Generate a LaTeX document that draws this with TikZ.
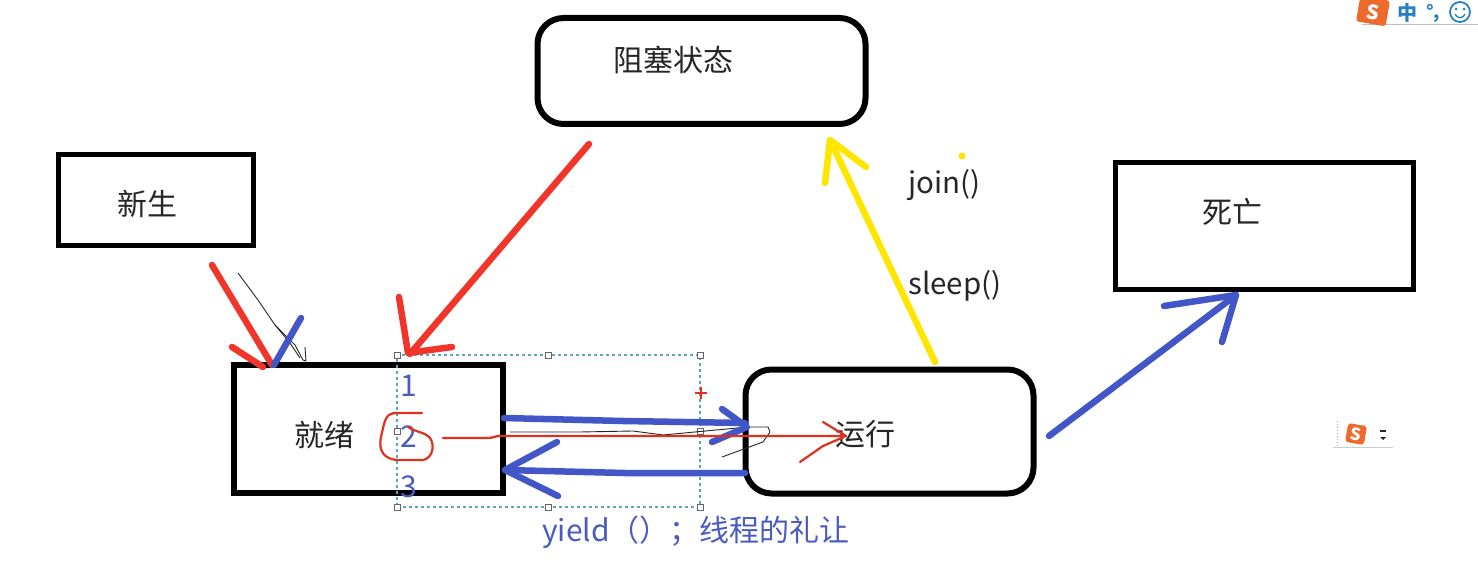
\documentclass[tikz,border=0pt]{standalone}
\usepackage{fontspec}
\setmainfont{Noto Sans CJK SC}
\definecolor{arrred}{HTML}{F2352A}
\definecolor{arrblue}{HTML}{4256C8}
\definecolor{txtblue}{HTML}{4A5CBE}
\definecolor{arryellow}{HTML}{FFE600}
\definecolor{selblue}{HTML}{5FA3BC}
\definecolor{inkred}{HTML}{E0301E}
\definecolor{sgorange}{HTML}{EE6A2C}
\definecolor{sgblue}{HTML}{2A7FC0}
\tikzset{
  x=1pt,y=-1pt,
  sqbox/.style={draw=black,line width=#1,fill=white,inner sep=0pt,outer sep=0pt},
  rdbox/.style={draw=black,line width=6pt,fill=white,inner sep=0pt,outer sep=0pt,rounded corners=26pt},
  lab/.style={font=\fontsize{30}{32}\selectfont,text=black!85,inner sep=0pt},
  mono/.style={font=\fontsize{29.5}{32}\selectfont,text=black!85,inner sep=0pt},
  numlab/.style={font=\fontsize{30}{32}\selectfont,text=txtblue,inner sep=0pt},
  redpen/.style={draw=arrred,line width=6.5pt,line cap=round,line join=round},
  bluepen/.style={draw=arrblue,line width=6.5pt,line cap=round,line join=round},
  yellowpen/.style={draw=arryellow,line width=6.5pt,line cap=round,line join=round},
  thinred/.style={draw=inkred,line width=2.2pt,line cap=round,line join=round},
  thinblack/.style={draw=black!85,line width=.9pt,line join=round},
  handle/.style={draw=black!60,fill=white,line width=1pt,minimum size=6pt,inner sep=0pt,outer sep=0pt},
  sgicon/.style={fill=sgorange,rounded corners=3pt,text=white,inner sep=0pt,font=\bfseries\fontsize{#1}{#1}\selectfont},
}
\begin{document}
\begin{tikzpicture}
\useasboundingbox (0,0) rectangle (1478,569);
\fill[white] (0,0) rectangle (1478,569);

% boxes
\node[sqbox=5pt,minimum width=195pt,minimum height=91pt] (born) at (155.5,200.5) {};
\node[sqbox=6pt,minimum width=269pt,minimum height=128pt] (ready) at (368.5,429) {};
\node[rdbox,minimum width=328pt,minimum height=106pt] (blocked) at (701.5,71) {};
\node[rdbox,minimum width=288pt,minimum height=124pt] (running) at (889.5,431.5) {};
\node[sqbox=5pt,minimum width=298pt,minimum height=127pt] (dead) at (1264.5,226) {};

% box texts
\node[lab] (tborn) at (147.5,203.5) {新生};
\node[lab] (tready) at (324.5,435.5) {就绪};
\node[lab] (tblocked) at (673,59.5) {阻塞状态};
\node[lab] (trunning) at (865,434.5) {运行};
\node[lab] (tdead) at (1232,211.5) {死亡};
\node[mono,anchor=west] (tjoin) at (908,185) {join()};
\node[mono,anchor=west] (tsleep) at (908,286) {sleep()};

% selection frame
\node[draw=selblue,dashed,line width=1.2pt,minimum width=303pt,minimum height=152pt,inner sep=0pt,outer sep=0pt] (sel) at (548.5,431) {};
\foreach \n/\p in {a/north west,b/north,c/north east,d/west,e/east,f/south west,g/south,h/south east}
  \node[handle] (h\n) at (sel.\p) {};
\node[numlab] (n1) at (409,386) {1};
\node[numlab] (n2) at (409,437) {2};
\node[numlab] (n3) at (409,487) {3};
\node[font=\fontsize{30}{32}\selectfont,text=txtblue,inner sep=0pt,anchor=west] (tyield) at (542,532) {yield（）；线程的礼让};

% named points of the hand-drawn strokes
\coordinate (r1s) at (212,265); \coordinate (r1t) at (272,365);
\coordinate (r1b) at (232,347); \coordinate (r1c) at (263,367);
\coordinate (b0s) at (301,318); \coordinate (b0t) at (274,365);
\coordinate (r2s) at (589,144); \coordinate (r2t) at (410,354);
\coordinate (r2b) at (399,297); \coordinate (r2c) at (452,347);
\coordinate (b1s) at (504,418); \coordinate (b1t) at (747,427);
\coordinate (b1b) at (722,409); \coordinate (b1c) at (712,442);
\coordinate (b2s) at (745,473); \coordinate (b2t) at (505,470);
\coordinate (b2b) at (557,442); \coordinate (b2c) at (558,496);
\coordinate (ys) at (935,362); \coordinate (yt) at (830,140);
\coordinate (yb) at (825,183); \coordinate (yc) at (866,167);
\coordinate (b3s) at (1049,436); \coordinate (b3t) at (1236,295);
\coordinate (b3b) at (1164,306); \coordinate (b3c) at (1222,342);
\coordinate (rls) at (443,438); \coordinate (rlt) at (846,436);
\coordinate (rlb) at (823,422); \coordinate (rlc) at (800,462);

% thin black pencil marks
\draw[thinblack] (238,273) -- (258,300) -- (275,325) -- (295,345) -- (303,360) -- (306,361) -- (305,347);
\draw[thinblack] (275,325) -- (290,343) -- (300,358);
\draw[thinblack] (510,432) -- (580,432) -- (633,431) -- (663,435) -- (748,427) -- (768,427) -- (770,432) -- (763,442) -- (722,457);

% red arrows
\draw[redpen] (r1s) -- (r1t);
\draw[redpen] (r1b) -- (r1c);
\draw[bluepen] (b0s) -- (b0t);
\draw[redpen] (r2s) -- (r2t);
\draw[redpen] (r2b) -- (408,353) -- (r2c);

% blue arrows
\draw[bluepen] (b1s) -- (543,419) -- (623,421) -- (745,423);
\draw[bluepen] (b1b) -- (b1t) -- (b1c);
\draw[bluepen] (b2s) -- (625,473) -- (b2t);
\draw[bluepen] (b2b) -- (b2t) -- (b2c);
\draw[bluepen] (b3s) -- (b3t);
\draw[bluepen] (b3b) -- (b3t) -- (b3c);

% yellow arrow
\draw[yellowpen] (ys) -- (yt);
\draw[yellowpen] (yb) -- (yt) -- (yc);
\fill[arryellow] (962,156) circle (3.5pt);

% thin red ink
\draw[thinred] (422,413) -- (397,413) .. controls (385,413) and (385,420) .. (381,437)
  .. controls (378,452) and (385,459) .. (397,460) -- (423,460)
  .. controls (433,458) and (435,445) .. (430,438) .. controls (425,432) and (415,432) .. (408,427);
\draw[thinred] (rls) -- (490,438) -- (498,436) -- (rlt);
\draw[thinred] (rlb) -- (rlt) -- (823,446) -- (rlc);
\draw[inkred,line width=2.2pt] (695,393) -- (707,393) (701,387) -- (701,399);

% input method widgets
\draw[black!25,line width=1pt] (1362,25) -- (1478,25);
\fill[sgorange,rounded corners=3pt,rotate around={-10:(1373,11)}] (1358,-2) rectangle (1388,24);
\node[text=white,inner sep=0pt,font=\bfseries\fontsize{20}{20}\selectfont,rotate=-10] (sg1) at (1373,12.5) {S};
\node[font=\fontsize{20}{20}\selectfont\bfseries,text=sgblue,inner sep=0pt] (zh) at (1407,13) {中};
\node[font=\fontsize{18}{20}\selectfont\bfseries,text=sgblue,inner sep=0pt] (pt) at (1433,13) {°,};
\node[draw=sgblue,circle,line width=1.8pt,minimum size=20pt,inner sep=0pt] (sm) at (1460,12) {};
\fill[sgblue] (1456,9) circle (1.5pt) (1464,9) circle (1.5pt);
\draw[sgblue,line width=1.3pt] (1455,14) .. controls (1457,19) and (1463,19) .. (1465,14);

\draw[black!35,line width=1pt,dotted] (1337,421) -- (1337,447);
\draw[black!20,line width=1pt] (1333,447) -- (1393,447);
\node[sgicon=17,minimum width=19pt,minimum height=19pt,rotate=-10] (sg2) at (1356,434) {S};
\fill[black!85] (1380,429.5) rectangle (1386,431.5);
\fill[black!85] (1380,437) -- (1386,437) -- (1383,440) -- cycle;
\end{tikzpicture}
\end{document}
